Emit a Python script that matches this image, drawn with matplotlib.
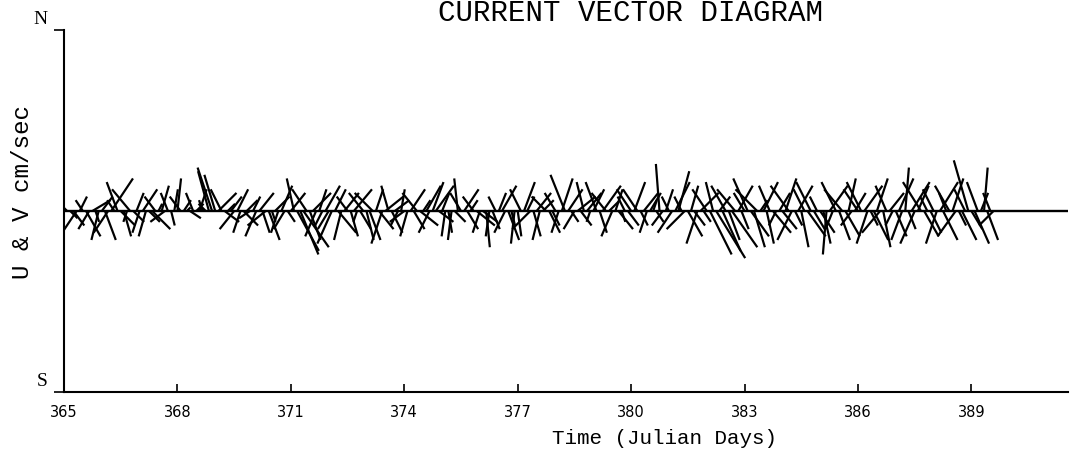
import numpy as np
import matplotlib
matplotlib.use("Agg")
import matplotlib.pyplot as plt

# Componentes de la corriente (cm/s), una muestra cada 2 horas desde el dia 365
u = [-5, 2, 3, -4, 2, -2, 4, -3, 5, 1, -2, 3,      # 365
     3, -4, 6, -2, -3, 4, 2, -1, -5, 3, 2, -2,     # 366
     4, -2, 3, 5, -3, 1, 2, -4, -2, 1, 1, 1,       # 367
     -3, 2, 1, 3, -2, 2, 2, -1, -2, -3, -4, -3,    # 368
     5, -3, 4, 2, 3, -4, 3, -2, 4, 3, -3, 2,       # 369
     -3, 4, 2, -5, 3, 1, 4, -2, 3, -3, 2, 4,       # 370
     -2, 6, 5, 7, -4, 3, 5, -3, 2, -2, 4, -3,      # 371
     -4, 3, 5, -2, 4, -3, 2, 5, -1, 3, -4, 2,      # 372
     3, -5, 2, 4, -3, 5, -2, 3, 4, -2, 1, -4,      # 373
     -2, 4, 3, -4, 5, 2, 4, -3, 3, 5, 4, 2,        # 374
     -1, 1, -1, 3, -1, -3, 4, 3, 2, -3, 5, -2,     # 375
     4, 1, -1, 2, -2, 2, 4, -3, 3, 1, -1, 1,       # 376
     -3, 3, 2, -5, 2, 4, -2, 3, -4, 3, 2, -3,      # 377
     -2, 3, -4, 4, 2, -3, 5, 3, -2, 4, -1, 3,      # 378
     -3, 2, 5, -4, 3, -3, 2, 4, 1, -2, 3, -4,      # 379
     3, -4, 2, 4, -2, 3, 1, 2, -1, -3, 2, -2,      # 380
     -4, 4, 3, -2, -5, 4, 2, 3, -3, 5, 2, -4,      # 381
     6, -2, 8, 3, 5, -4, 3, 7, -5, 4, 2, -3,       # 382
     -4, 5, 3, -6, 2, 4, 2, -3, 5, -2, 3, 4,       # 383
     3, -5, -4, 2, 4, 2, -3, 5, -4, 3, -2, 4,      # 384
     2, -1, 5, -2, -4, 3, -5, 4, 2, -3, 3, -4,     # 385
     -4, 5, -3, 2, 4, 3, -5, 2, -3, 4, -2, 3,      # 386
     4, -3, 1, 2, 5, -4, 3, -5, 4, -2, 3, -3,      # 387
     -3, 5, 4, -2, -4, 3, -5, 2, 4, -3, -4, 3,     # 388
     4, -3, 2, 1, 3, -2, -4]                       # 389
v = [5, -2, -4, -6, 4, 3, -7, -5, 3, -3, -8, 4,
     -8, -6, 9, 3, 8, -4, -7, -3, 6, -3, 5, -6,
     6, -7, -3, -5, 4, 2, 7, -3, 5, -4, 6, 9,
     4, 3, 1, -2, 5, 2, 6, 3, 2, 11, 12, 10,
     5, 6, -3, 2, 4, -5, 6, -6, -4, 3, -2, 4,
     -7, 5, -6, -4, -8, -3, 4, -6, 7, -5, -3, 5,
     9, -11, -12, -10, 6, -8, 5, -7, 6, -4, 7, -5,
     -9, 6, -6, -8, 5, 4, -7, 6, -3, -5, 5, -8,
     -8, 5, 6, -5, -9, 4, 7, -6, 3, -4, 6, -3,
     -7, 6, -5, 5, -4, 3, 7, -6, 8, 7, -3, 5,
     -7, -6, -8, -3, 9, 5, 6, -5, 3, 4, -4, -6,
     -3, -10, -7, -5, 4, 5, 7, -6, -8, -4, -9, -7,
     6, 8, 4, -5, -7, 5, -8, 3, 4, -6, -4, 5,
     -6, 9, 10, 6, -3, -5, 4, -4, 8, 5, -3, 6,
     8, -6, 7, 5, 3, -7, 6, -5, -3, 4, -4, 6,
     8, 6, -4, 5, -6, 5, 3, -3, 13, -4, 6, 4,
     -6, 8, 11, 4, -5, -7, 7, -4, -9, 5, -3, 6,
     -12, 8, -13, 4, -11, 7, -8, -10, 6, 7, -5, 5,
     9, -7, -10, 6, 3, 8, -9, 7, -6, -4, 5, -5,
     9, 7, -8, -4, 7, -10, 6, -7, 8, -5, 4, -6,
     -9, -12, 7, -5, 8, -8, 6, -7, 9, -4, 5, 6,
     8, 7, -9, -4, -8, 9, -6, -10, 7, 5, -4, -7,
     9, -8, 12, -5, 8, -9, 7, 8, -7, 4, -6, 6,
     -9, 8, -8, 5, 7, 9, -7, -4, -8, 6, 14, -5,
     -9, 8, 5, 12, -8, 5, -4]
dias_ticks = [365, 368, 371, 374, 377, 380, 383, 386, 389]

t = 365 + (np.arange(len(u)) + 1) / 12.0

fig = plt.figure(figsize=(10.7, 4.58), dpi=100)
ax = fig.add_axes([0.0598, 0.144, 0.9382, 0.7905])

ax.axhline(0, color='black', lw=1.7)
ax.quiver(t, np.zeros(len(t)), u, v, angles='uv', scale_units='y', scale=1,
          headwidth=0, headlength=0, headaxislength=0, pivot='tail',
          units='dots', width=2.2, color='black')

ax.set_xlim(365, 391.55)
ax.set_ylim(-50, 50)

ax.spines['top'].set_visible(False)
ax.spines['right'].set_visible(False)
ax.spines['left'].set_linewidth(1.5)
ax.spines['bottom'].set_linewidth(1.5)

ax.set_xticks(dias_ticks)
ax.set_xticklabels([str(d) for d in dias_ticks], fontsize=10.5)
ax.tick_params(axis='x', direction='in', length=6, width=1.2, pad=9)
ax.set_yticks([-50, 50])
ax.set_yticklabels([])
ax.tick_params(axis='y', direction='out', length=7, width=1.2)

# Rotulos N / S
ax.text(-0.016, 1.005, "N", transform=ax.transAxes, ha='right', va='bottom',
        family='Liberation Serif', fontsize=14)
ax.text(-0.016, 0.005, "S", transform=ax.transAxes, ha='right', va='bottom',
        family='Liberation Serif', fontsize=14)

fig.text(0.589, 0.972, "CURRENT VECTOR DIAGRAM", ha='center', va='center',
         family='Liberation Mono', fontsize=21)
fig.text(0.621, 0.043, "Time (Julian Days)", ha='center', va='center',
         family='Liberation Mono', fontsize=15)
fig.text(0.021, 0.58, "U & V cm/sec", ha='center', va='center', rotation=90,
         family='Liberation Mono', fontsize=17.5)

plt.savefig("out.png", dpi=100)
